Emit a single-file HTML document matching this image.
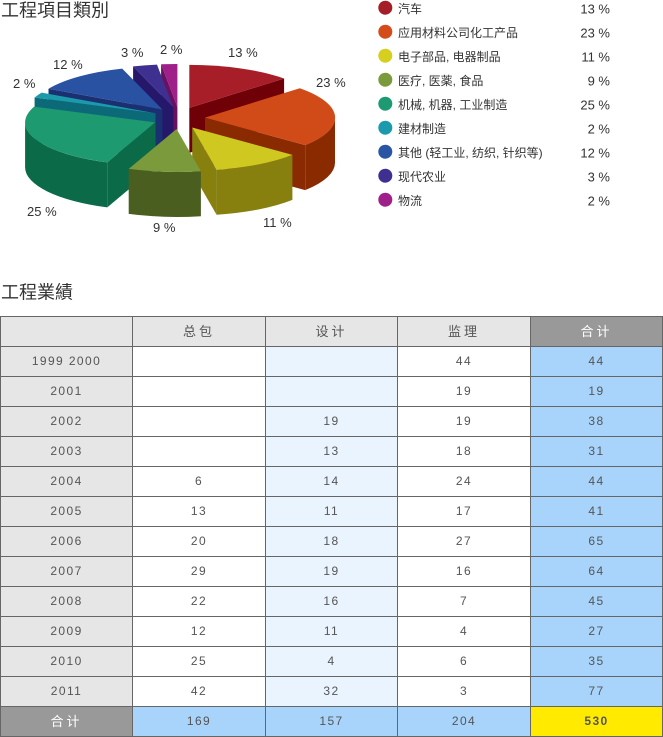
<!DOCTYPE html>
<html><head><meta charset="utf-8">
<style>
html,body{margin:0;padding:0;background:#fff;}
body{width:663px;height:737px;position:relative;overflow:hidden;font-family:"Liberation Sans","Noto Sans CJK SC",sans-serif;}
svg{position:absolute;left:0;top:0;}
.tbl{position:absolute;left:0;top:316px;width:663px;height:421px;background:#666;}
.c{position:absolute;height:29px;line-height:29px;text-align:center;font-size:12px;letter-spacing:1.4px;color:#555;}
.h{font-size:13px;letter-spacing:3px;}
</style></head><body>
<svg width="663" height="300" viewBox="0 0 663 300">
<g font-family="'Liberation Sans','Noto Sans CJK SC',sans-serif" fill="#333">
<text x="1" y="16.5" font-size="18">工程項目類別</text>
<text x="1" y="298.5" font-size="18">工程業績</text>
</g>
<!-- magenta -->
<polygon points="177.4,107 161.1,64.3 161.1,109.3 177.4,152" fill="#6a1060"/>
<path d="M177.4,107 L161.1,64.3 A130,43 0 0 1 177.4,64 Z" fill="#a0208a"/>
<!-- purple -->
<polygon points="173.3,107.3 133.1,66.4 133.1,111.4 173.3,152.3" fill="#25186a"/>
<path d="M173.3,107.3 L133.1,66.4 A130,43 0 0 1 157,64.6 Z" fill="#3e3090"/>
<!-- blue -->
<polygon points="162.4,109.5 48.5,88.8 48.5,133.8 162.4,154.5" fill="#1a3070"/>
<path d="M162.4,109.5 L48.5,88.8 A130,43 0 0 1 122.2,68.6 Z" fill="#2a52a2"/>
<!-- teal -->
<polygon points="155.5,113.3 34.6,97.5 34.6,142.5 155.5,158.3" fill="#0c6a78"/>
<path d="M155.5,113.3 L34.6,97.5 A130,43 0 0 1 41.6,92.6 Z" fill="#1a9aaa"/>
<!-- red -->
<polygon points="189.3,107.9 284.1,78.5 284.1,123.5 189.3,152.9" fill="#6f0008"/>
<path d="M189.3,107.9 L189.3,64.9 A130,43 0 0 1 284.1,78.5 Z" fill="#a81e28"/>
<!-- orange -->
<polygon points="205,117.65 305.2,145.1 305.2,190.1 205,162.65" fill="#8a2a00"/>
<path d="M335,117.65 A130,43 0 0 1 305.2,145.1 L305.2,190.1 A130,43 0 0 0 335,162.65 Z" fill="#8a2a00"/>
<path d="M205,117.65 L299.8,88.2 A130,43 0 0 1 305.2,145.1 Z" fill="#d14b18"/>
<!-- green -->
<polygon points="155.1,122.4 107.25,162.4 107.25,207.4 155.1,167.4" fill="#0b6a48"/>
<path d="M107.25,162.4 A130,43 0 0 1 25.1,122.4 L25.1,167.4 A130,43 0 0 0 107.25,207.4 Z" fill="#0b6a48"/>
<path d="M155.1,122.4 L107.25,162.4 A130,43 0 0 1 34.2,106.6 Z" fill="#1e9a70"/>
<!-- yellow -->
<polygon points="192.2,127.5 216.6,169.7 216.6,214.7 192.2,172.5" fill="#87800f"/>
<path d="M292.4,154.9 A130,43 0 0 1 216.6,169.7 L216.6,214.7 A130,43 0 0 0 292.4,199.9 Z" fill="#87800f"/>
<path d="M192.2,127.5 L292.4,154.9 A130,43 0 0 1 216.6,169.7 Z" fill="#cfc820"/>
<!-- olive -->
<path d="M200.9,171.2 A130,43 0 0 1 128.7,168.9 L128.7,213.9 A130,43 0 0 0 200.9,216.2 Z" fill="#4a5e20"/>
<path d="M176.55,128.95 L200.9,171.2 A130,43 0 0 1 128.7,168.9 Z" fill="#7a9a3c"/>
<!-- pie labels -->
<g font-family="'Liberation Sans',sans-serif" font-size="13" fill="#333">
<text x="228" y="57">13 %</text>
<text x="316" y="87">23 %</text>
<text x="263" y="227">11 %</text>
<text x="153" y="232">9 %</text>
<text x="27" y="216">25 %</text>
<text x="13" y="88">2 %</text>
<text x="53" y="69">12 %</text>
<text x="121" y="57">3 %</text>
<text x="160" y="54">2 %</text>
</g>
<!-- legend -->
<g>
<circle cx="385.3" cy="7.7" r="7" fill="#a51d26"/>
<circle cx="385.3" cy="31.7" r="7" fill="#d34c1a"/>
<circle cx="385.3" cy="55.7" r="7" fill="#d6cf1d"/>
<circle cx="385.3" cy="79.7" r="7" fill="#7a9a3c"/>
<circle cx="385.3" cy="103.7" r="7" fill="#1e9a72"/>
<circle cx="385.3" cy="127.7" r="7" fill="#1c9aad"/>
<circle cx="385.3" cy="151.7" r="7" fill="#2a55a5"/>
<circle cx="385.3" cy="175.7" r="7" fill="#3f2f91"/>
<circle cx="385.3" cy="199.7" r="7" fill="#a0208a"/>
</g>
<g font-family="'Liberation Sans','Noto Sans CJK SC',sans-serif" font-size="12" fill="#333">
<text x="398" y="13">汽车</text>
<text x="398" y="37">应用材料公司化工产品</text>
<text x="398" y="61">电子部品, 电器制品</text>
<text x="398" y="85">医疗, 医薬, 食品</text>
<text x="398" y="109">机械, 机器, 工业制造</text>
<text x="398" y="133">建材制造</text>
<text x="398" y="157">其他 (轻工业, 纺织, 针织等)</text>
<text x="398" y="181">现代农业</text>
<text x="398" y="205">物流</text>
</g>
<g font-family="'Liberation Sans',sans-serif" font-size="13" fill="#333" text-anchor="end">
<text x="610" y="13.3">13 %</text>
<text x="610" y="37.3">23 %</text>
<text x="610" y="61.3">11 %</text>
<text x="610" y="85.3">9 %</text>
<text x="610" y="109.3">25 %</text>
<text x="610" y="133.3">2 %</text>
<text x="610" y="157.3">12 %</text>
<text x="610" y="181.3">3 %</text>
<text x="610" y="205.3">2 %</text>
</g>
</svg>

<div class="tbl">
<!-- header -->
<div class="c" style="left:1px;top:1px;width:131px;background:#e6e6e6"></div>
<div class="c h" style="left:133px;top:1px;width:132px;background:#e6e6e6">总包</div>
<div class="c h" style="left:266px;top:1px;width:131px;background:#e6e6e6">设计</div>
<div class="c h" style="left:398px;top:1px;width:132px;background:#e6e6e6">监理</div>
<div class="c h" style="left:531px;top:1px;width:131px;background:#999;color:#fff">合计</div>

<div class="c" style="left:1px;top:31px;width:131px;background:#e6e6e6">1999 2000</div>
<div class="c" style="left:133px;top:31px;width:132px;background:#fff"></div>
<div class="c" style="left:266px;top:31px;width:131px;background:#eaf4fe"></div>
<div class="c" style="left:398px;top:31px;width:132px;background:#fff">44</div>
<div class="c" style="left:531px;top:31px;width:131px;background:#a8d4fb">44</div>

<div class="c" style="left:1px;top:61px;width:131px;background:#e6e6e6">2001</div>
<div class="c" style="left:133px;top:61px;width:132px;background:#fff"></div>
<div class="c" style="left:266px;top:61px;width:131px;background:#eaf4fe"></div>
<div class="c" style="left:398px;top:61px;width:132px;background:#fff">19</div>
<div class="c" style="left:531px;top:61px;width:131px;background:#a8d4fb">19</div>

<div class="c" style="left:1px;top:91px;width:131px;background:#e6e6e6">2002</div>
<div class="c" style="left:133px;top:91px;width:132px;background:#fff"></div>
<div class="c" style="left:266px;top:91px;width:131px;background:#eaf4fe">19</div>
<div class="c" style="left:398px;top:91px;width:132px;background:#fff">19</div>
<div class="c" style="left:531px;top:91px;width:131px;background:#a8d4fb">38</div>

<div class="c" style="left:1px;top:121px;width:131px;background:#e6e6e6">2003</div>
<div class="c" style="left:133px;top:121px;width:132px;background:#fff"></div>
<div class="c" style="left:266px;top:121px;width:131px;background:#eaf4fe">13</div>
<div class="c" style="left:398px;top:121px;width:132px;background:#fff">18</div>
<div class="c" style="left:531px;top:121px;width:131px;background:#a8d4fb">31</div>

<div class="c" style="left:1px;top:151px;width:131px;background:#e6e6e6">2004</div>
<div class="c" style="left:133px;top:151px;width:132px;background:#fff">6</div>
<div class="c" style="left:266px;top:151px;width:131px;background:#eaf4fe">14</div>
<div class="c" style="left:398px;top:151px;width:132px;background:#fff">24</div>
<div class="c" style="left:531px;top:151px;width:131px;background:#a8d4fb">44</div>

<div class="c" style="left:1px;top:181px;width:131px;background:#e6e6e6">2005</div>
<div class="c" style="left:133px;top:181px;width:132px;background:#fff">13</div>
<div class="c" style="left:266px;top:181px;width:131px;background:#eaf4fe">11</div>
<div class="c" style="left:398px;top:181px;width:132px;background:#fff">17</div>
<div class="c" style="left:531px;top:181px;width:131px;background:#a8d4fb">41</div>

<div class="c" style="left:1px;top:211px;width:131px;background:#e6e6e6">2006</div>
<div class="c" style="left:133px;top:211px;width:132px;background:#fff">20</div>
<div class="c" style="left:266px;top:211px;width:131px;background:#eaf4fe">18</div>
<div class="c" style="left:398px;top:211px;width:132px;background:#fff">27</div>
<div class="c" style="left:531px;top:211px;width:131px;background:#a8d4fb">65</div>

<div class="c" style="left:1px;top:241px;width:131px;background:#e6e6e6">2007</div>
<div class="c" style="left:133px;top:241px;width:132px;background:#fff">29</div>
<div class="c" style="left:266px;top:241px;width:131px;background:#eaf4fe">19</div>
<div class="c" style="left:398px;top:241px;width:132px;background:#fff">16</div>
<div class="c" style="left:531px;top:241px;width:131px;background:#a8d4fb">64</div>

<div class="c" style="left:1px;top:271px;width:131px;background:#e6e6e6">2008</div>
<div class="c" style="left:133px;top:271px;width:132px;background:#fff">22</div>
<div class="c" style="left:266px;top:271px;width:131px;background:#eaf4fe">16</div>
<div class="c" style="left:398px;top:271px;width:132px;background:#fff">7</div>
<div class="c" style="left:531px;top:271px;width:131px;background:#a8d4fb">45</div>

<div class="c" style="left:1px;top:301px;width:131px;background:#e6e6e6">2009</div>
<div class="c" style="left:133px;top:301px;width:132px;background:#fff">12</div>
<div class="c" style="left:266px;top:301px;width:131px;background:#eaf4fe">11</div>
<div class="c" style="left:398px;top:301px;width:132px;background:#fff">4</div>
<div class="c" style="left:531px;top:301px;width:131px;background:#a8d4fb">27</div>

<div class="c" style="left:1px;top:331px;width:131px;background:#e6e6e6">2010</div>
<div class="c" style="left:133px;top:331px;width:132px;background:#fff">25</div>
<div class="c" style="left:266px;top:331px;width:131px;background:#eaf4fe">4</div>
<div class="c" style="left:398px;top:331px;width:132px;background:#fff">6</div>
<div class="c" style="left:531px;top:331px;width:131px;background:#a8d4fb">35</div>

<div class="c" style="left:1px;top:361px;width:131px;background:#e6e6e6">2011</div>
<div class="c" style="left:133px;top:361px;width:132px;background:#fff">42</div>
<div class="c" style="left:266px;top:361px;width:131px;background:#eaf4fe">32</div>
<div class="c" style="left:398px;top:361px;width:132px;background:#fff">3</div>
<div class="c" style="left:531px;top:361px;width:131px;background:#a8d4fb">77</div>

<div class="c h" style="left:1px;top:391px;width:131px;background:#999;color:#fff">合计</div>
<div class="c" style="left:133px;top:391px;width:132px;background:#a8d4fb">169</div>
<div class="c" style="left:266px;top:391px;width:131px;background:#a8d4fb">157</div>
<div class="c" style="left:398px;top:391px;width:132px;background:#a8d4fb">204</div>
<div class="c" style="left:531px;top:391px;width:131px;background:#ffea00;font-weight:bold;color:#555">530</div>
</div>
</body></html>
